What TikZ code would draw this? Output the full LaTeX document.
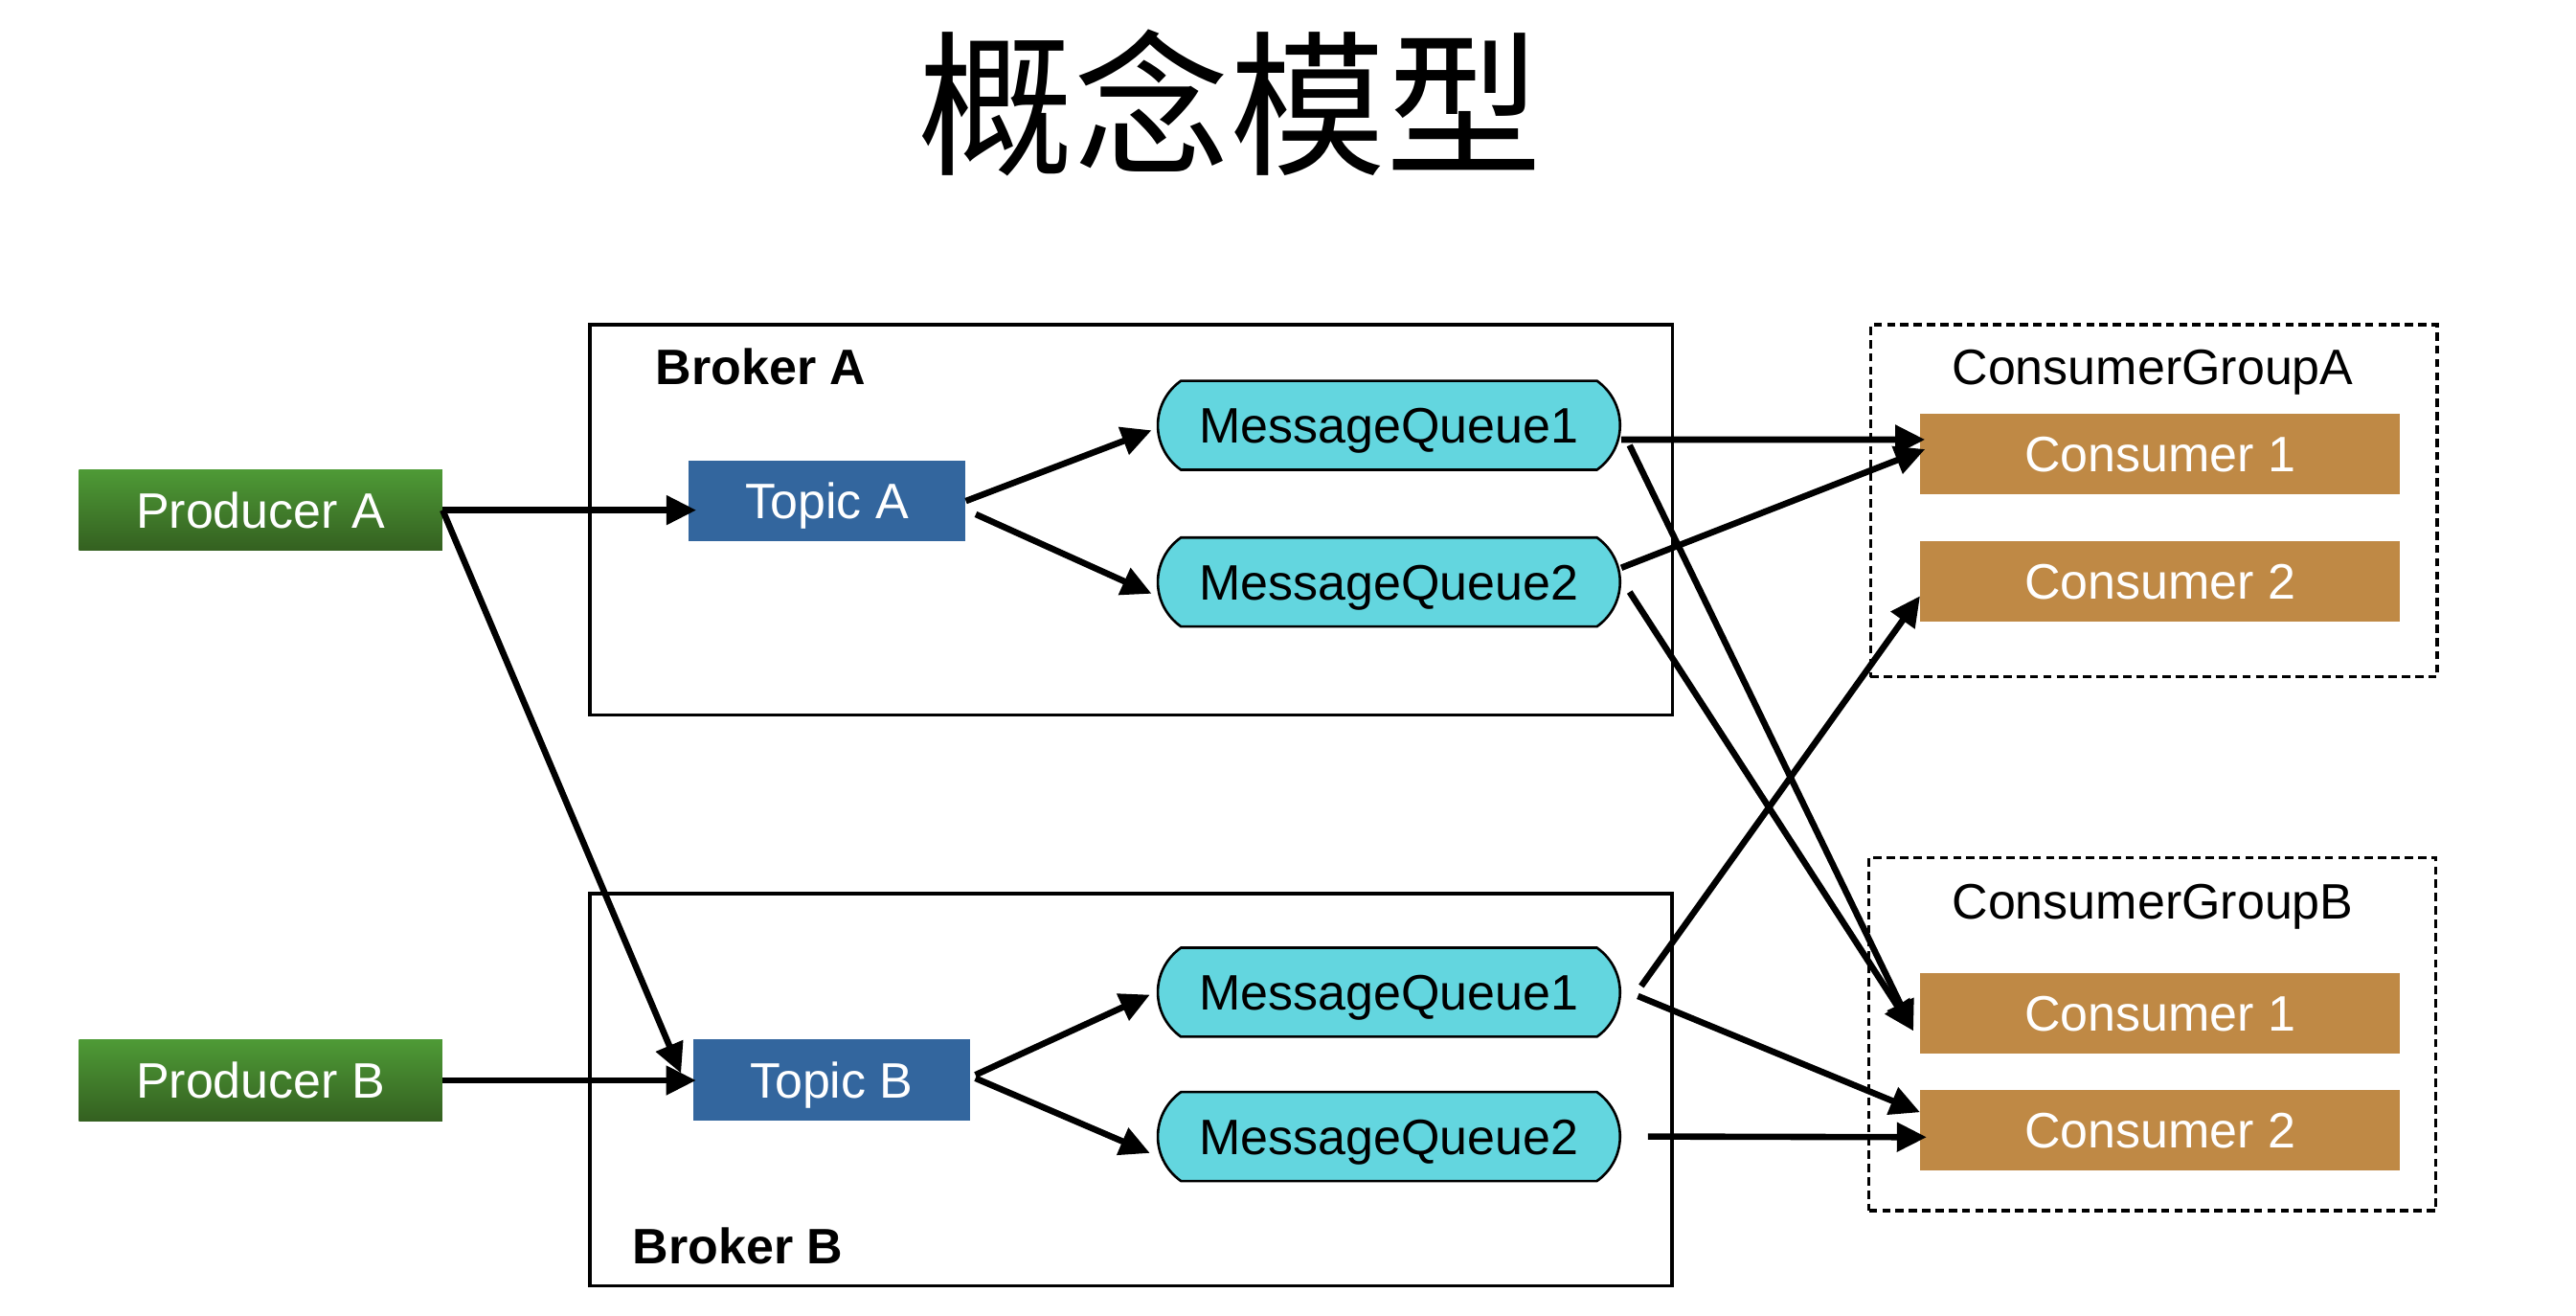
\documentclass[tikz,border=0pt]{standalone}
\usepackage{fontspec}
\setmainfont{Liberation Sans}
\newfontfamily\cjkfont{Noto Sans CJK SC}
\usepackage{tikz}
\usetikzlibrary{arrows.meta, shapes.misc}
\definecolor{prodtop}{HTML}{4E9A36}
\definecolor{prodbot}{HTML}{346020}
\definecolor{topicblue}{HTML}{33669E}
\definecolor{queuecyan}{HTML}{63D6DF}
\definecolor{consbrown}{HTML}{BF8945}
\tikzset{MQModel/.style = {% for the message queue model
      base/.style = {rectangle, minimum height=48.5pt, inner sep=0pt, align=center,
                     text height=21.5pt, text depth=0pt,
                     text=white, font=\fontsize{30}{36}\selectfont},
  producer/.style = {base, minimum width=219pt, top color=prodtop, bottom color=prodbot},
     topic/.style = {base, minimum width=167pt, fill=topicblue},
     queue/.style = {rounded rectangle, rounded rectangle arc length=110,
                     draw=black, line width=1.5pt, fill=queuecyan,
                     minimum width=278.5pt, minimum height=53.6pt, inner sep=0pt,
                     text height=21.5pt, text depth=0pt,
                     font=\fontsize{30}{36}\selectfont},
  consumer/.style = {base, minimum width=289pt, fill=consbrown},
    broker/.style = {rectangle, draw, line width=2pt, inner sep=0pt},
     group/.style = {rectangle, draw, line width=2pt, dash pattern=on 5pt off 3pt, inner sep=0pt},
 grouptext/.style = {inner sep=0pt, font=\fontsize{30}{36}\selectfont},
 brokertext/.style = {inner sep=0pt, font=\fontsize{30}{36}\selectfont\bfseries},
     arrow/.style = {line width=3.8pt, -{Triangle[length=18pt,width=17pt]}}}
        }
\begin{document}
\begin{tikzpicture}[MQModel, x=1pt, y=-1pt]
\useasboundingbox (0,0) rectangle (1552,792.7);

% title
\node (title) [font=\cjkfont\fontsize{94}{100}\selectfont, inner sep=0pt] at (741,62) {概念模型};

% frames
\node (brokerA) [broker, minimum width=652pt, minimum height=235.2pt] at (681.5,313.2) {};
\node (brokerB) [broker, minimum width=652pt, minimum height=236.3pt] at (681.4,656.5) {};
\node (groupA)  [group, minimum width=341.4pt, minimum height=212.1pt] at (1297.7,301.7) {};
\node (groupB)  [group, minimum width=341.6pt, minimum height=212.5pt] at (1296.8,623) {};
\node (brokerAtxt) [brokertext, anchor=base west] at (394.8,231.7) {Broker A};
\node (brokerBtxt) [brokertext, anchor=base west] at (381,761) {Broker B};
\node (groupAtxt)  [grouptext, anchor=base] at (1297,231.7) {ConsumerGroupA};
\node (groupBtxt)  [grouptext, anchor=base] at (1297,553.8) {ConsumerGroupB};

% nodes
\node (pA)  [producer] at (157,307.3) {Producer A};
\node (pB)  [producer] at (157,650.8) {Producer B};
\node (tA)  [topic]    at (498.2,301.8) {Topic A};
\node (tB)  [topic]    at (501,650.5) {Topic B};
\node (q1a) [queue]    at (836.8,256.2) {MessageQueue1};
\node (q2a) [queue]    at (836.8,350.6) {MessageQueue2};
\node (q1b) [queue]    at (836.8,597.7) {MessageQueue1};
\node (q2b) [queue]    at (836.8,684.6) {MessageQueue2};
\node (c1a) [consumer] at (1301.5,273.4) {Consumer 1};
\node (c2a) [consumer] at (1301.5,350) {Consumer 2};
\node (c1b) [consumer] at (1301.5,610.2) {Consumer 1};
\node (c2b) [consumer] at (1301.5,680.6) {Consumer 2};

% producers to topics
\draw [arrow] (pA) -- ([xshift=5pt]pA -| tA.west);
\draw [arrow] (pA.east) -- ([xshift=-7pt,yshift=4pt]tB.west);
\draw [arrow] (pB) -- ([xshift=2pt]pB -| tB.west);
% topics to queues
\draw [arrow] (tA.east) -- ([xshift=-3pt,yshift=-3pt]q1a.west);
\draw [arrow] ([xshift=6pt,yshift=-8pt]tA.east) -- ([xshift=-3pt,yshift=-7pt]q2a.west);
\draw [arrow] ([xshift=3pt,yshift=3pt]tB.east) -- ([xshift=-4pt,yshift=-1.5pt]q1b.west);
\draw [arrow] ([xshift=3pt,yshift=1pt]tB.east) -- ([xshift=-4pt,yshift=-10pt]q2b.west);
% queues to consumers
\draw [arrow] ([yshift=-8.6pt]q1a.east) -- ([xshift=3pt,yshift=8.6pt]c1a.west);
\draw [arrow] ([yshift=8.6pt]q2a.east) -- ([xshift=3pt,yshift=2.8pt]c1a.west);
\draw [arrow] ([xshift=5pt,yshift=-12pt]q1a.east) -- ([xshift=-4pt,yshift=-10.8pt]c1b.west);
\draw [arrow] ([xshift=5pt,yshift=-6pt]q2a.east) -- ([xshift=-4pt,yshift=-10.8pt]c1b.west);
\draw [arrow] ([xshift=12pt,yshift=3.7pt]q1b.east) -- ([yshift=-9pt]c2a.west);
\draw [arrow] ([xshift=10pt,yshift=-2.3pt]q1b.east) -- ([yshift=10.6pt]c2b.west);
\draw [arrow] ([xshift=16pt]q2b.east) -- ([xshift=4pt,yshift=-4.4pt]c2b.west);

\end{tikzpicture}
\end{document}
